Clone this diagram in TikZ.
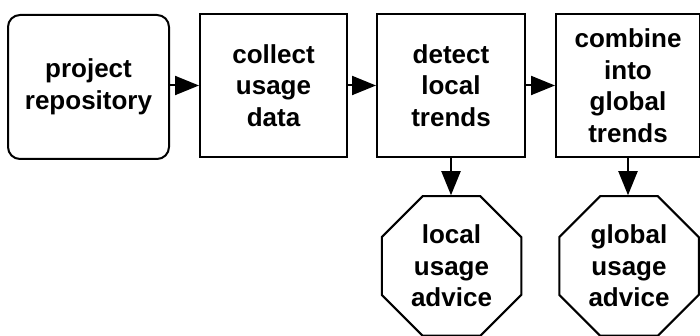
\documentclass[tikz,border=0pt]{standalone}
\usepackage{fontspec}
\setmainfont{Liberation Sans}
\usetikzlibrary{shapes.geometric,arrows.meta}
\begin{document}
\begin{tikzpicture}[x=1pt,y=1pt,
  lbl/.style={align=center,font=\fontsize{26}{31.5}\selectfont\bfseries,inner sep=0pt},
  procbox/.style={lbl,draw,line width=2pt,minimum height=143pt},
  octa/.style={lbl,draw,line width=2pt,regular polygon,regular polygon sides=8,minimum size=151pt},
  flow/.style={line width=2pt,-{Triangle[length=24pt,width=19pt]}}]
\useasboundingbox (0,0) rectangle (700,336);
\node[procbox,rounded corners=12pt,minimum width=161pt,minimum height=144pt] (repo) at (88.5,249) {project\\repository};
\node[procbox,minimum width=147pt] (collect) at (273.5,250.5) {collect\\usage\\data};
\node[procbox,minimum width=148pt] (detect) at (451,250.5) {detect\\local\\trends};
\node[procbox,minimum width=144pt] (combine) at (628,250.5) {combine\\into\\global\\trends};
\node[octa] (local) at (451.5,70) {local\\usage\\advice};
\node[octa] (global) at (629,70) {global\\usage\\advice};
\draw[flow] (repo.east |- collect.west) -- (collect.west);
\draw[flow] (collect.east) -- (detect.west);
\draw[flow] (detect.east) -- (combine.west);
\draw[flow] (detect.south) -- (detect.south |- local.north);
\draw[flow] (combine.south) -- (combine.south |- global.north);
\end{tikzpicture}
\end{document}
